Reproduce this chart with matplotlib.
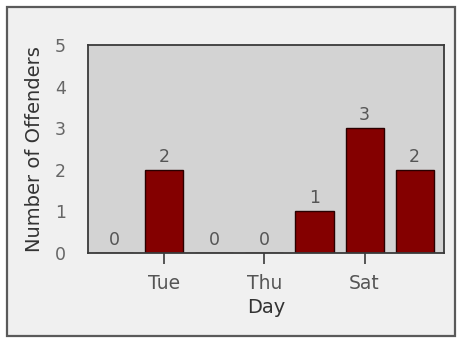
import matplotlib.pyplot as plt
from matplotlib.patches import Rectangle

days = ['Mon', 'Tue', 'Wed', 'Thu', 'Fri', 'Sat', 'Sun']
offenders = [0, 2, 0, 0, 1, 3, 2]
shown_ticks = ['Tue', 'Thu', 'Sat']

plt.rcParams['font.family'] = ['DejaVu Sans']

fig = plt.figure(figsize=(4.58, 3.39), dpi=100)
fig.patch.set_facecolor('white')

# panel frame around the whole chart, kept behind the axes
fig.patches.append(Rectangle((0.016, 0.010), 0.977, 0.968, transform=fig.transFigure,
                             facecolor='#f0f0f0', edgecolor='#5a5a5a', linewidth=1.6, zorder=-1))

ax = fig.add_axes([0.192, 0.254, 0.777, 0.613])
ax.set_facecolor('#d3d3d3')

x = list(range(len(days)))
bars = ax.bar(x, offenders, width=0.76, color='#840000', edgecolor='#2a0000', linewidth=1.0)
for xi, v in zip(x, offenders):
    ax.text(xi, v + 0.1, str(v), ha='center', va='bottom', fontsize=12.5, color='#555555')

ax.set_xlim(-0.52, 6.58)
ax.set_ylim(0, 5)
ax.set_yticks(range(6))
ax.set_xticks([days.index(d) for d in shown_ticks])
ax.set_xticklabels(shown_ticks)

for s in ax.spines.values():
    s.set_color('#3a3a3a')
    s.set_linewidth(1.3)

ax.tick_params(axis='y', length=8, width=1.2, color='#3a3a3a', pad=8, labelsize=12.5, labelcolor='#666666')
ax.tick_params(axis='x', length=8, width=1.2, color='#3a3a3a', pad=7, labelsize=13.5, labelcolor='#555555')
for t in ax.yaxis.get_major_ticks():
    if t.get_loc() in (0, 5):
        t.tick1line.set_visible(False)

ax.set_xlabel('Day', fontsize=14, color='#333333', labelpad=4)
ax.set_ylabel('Number of Offenders', fontsize=14, color='#333333', labelpad=8)

fig.savefig('out.png', dpi=100)
